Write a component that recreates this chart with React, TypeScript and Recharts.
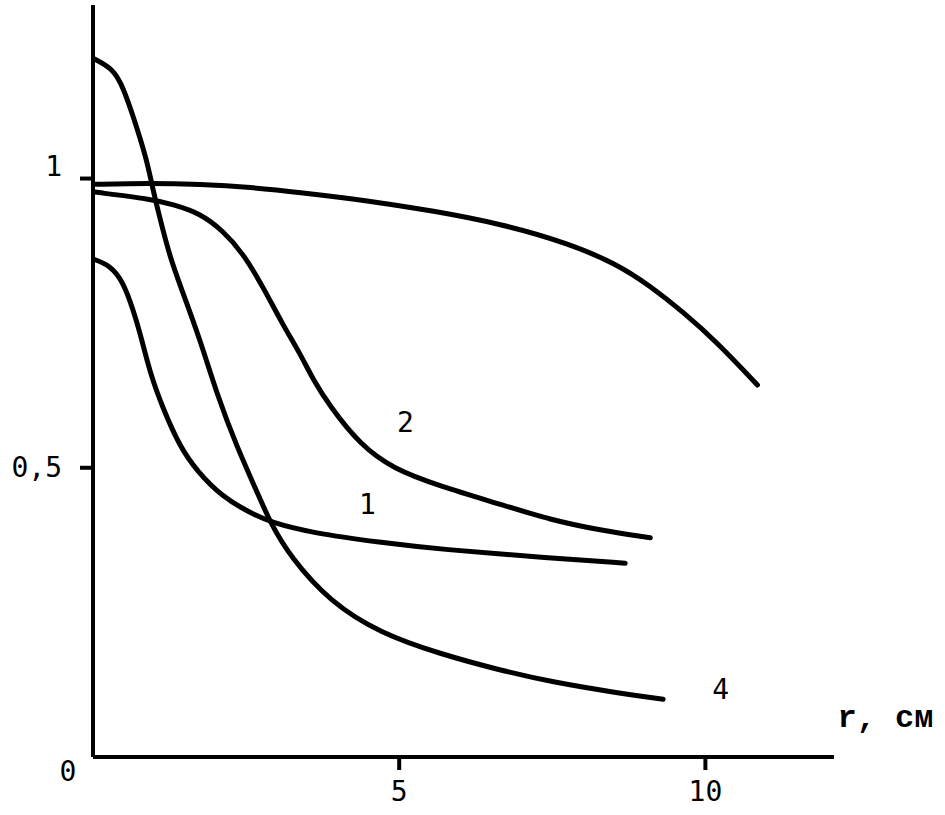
import React from 'react';
import { LineChart, Line, XAxis, YAxis, ReferenceDot } from 'recharts';

// radius, cm
const r1 = [0, 0.28, 0.49, 0.65, 0.77, 0.93, 1.14, 1.42, 1.7, 2.12, 2.57, 2.89, 3.59, 4.69, 5.67, 7.47, 8.69];
const v1 = [0.861, 0.85, 0.822, 0.775, 0.733, 0.664, 0.603, 0.536, 0.494, 0.449, 0.422, 0.406, 0.387, 0.371, 0.359, 0.344, 0.335];

const r2 = [0, 0.98, 1.31, 1.75, 2.12, 2.45, 2.78, 3.1, 3.38, 3.59, 3.87, 4.36, 4.9, 5.67, 6.65, 7.47, 8.28, 9.1];
const v2 = [0.977, 0.964, 0.955, 0.94, 0.91, 0.871, 0.812, 0.747, 0.698, 0.653, 0.606, 0.54, 0.498, 0.468, 0.437, 0.41, 0.392, 0.379];

const r3 = [0, 0.93, 1.75, 2.57, 3.38, 4.48, 5.56, 6.65, 7.74, 8.56, 9.1, 9.64, 10.2, 10.85];
const v3 = [0.99, 0.992, 0.99, 0.985, 0.976, 0.962, 0.944, 0.922, 0.889, 0.852, 0.814, 0.769, 0.716, 0.643];

const r4 = [0, 0.33, 0.49, 0.65, 0.88, 0.96, 1.06, 1.26, 1.45, 1.75, 2.03, 2.35, 2.68, 2.89, 3.22, 3.87, 4.69, 5.67, 6.65, 7.47, 8.61, 9.31];
const v4 = [1.208, 1.19, 1.158, 1.11, 1.032, 0.99, 0.945, 0.862, 0.808, 0.721, 0.625, 0.536, 0.458, 0.406, 0.346, 0.268, 0.214, 0.178, 0.15, 0.13, 0.11, 0.1];

const xTicks = [5, 10];
const yTicks = [0, 0.5, 1];
const yTickLabels: Record<number, string> = { 0: '0', 0.5: '0,5', 1: '1' };

// curve labels: [text, r, value]
const curveLabels: [string, number, number][] = [
  ['1', 4.48, 0.436],
  ['2', 5.1, 0.579],
  ['4', 10.25, 0.116],
];

const zip = (xs: number[], ys: number[]) => xs.map((x, i) => ({ x, y: ys[i] }));

const FONT = '"DejaVu Sans Mono", monospace';

const YTick = (props: any) => {
  const { x, y, payload } = props;
  const v = payload.value;
  if (v === 0) {
    return (
      <text x={x - 25} y={y + 14} textAnchor="middle" dominantBaseline="central" fontFamily={FONT} fontSize={28} fill="#000">
        0
      </text>
    );
  }
  return (
    <g>
      <line x1={x - 13} x2={x} y1={y} y2={y} stroke="#000" strokeWidth={4} />
      <text x={x - 31} y={v === 1 ? y - 12 : y} textAnchor="end" dominantBaseline="central" fontFamily={FONT} fontSize={28} fill="#000">
        {yTickLabels[v]}
      </text>
    </g>
  );
};

const XTick = (props: any) => {
  const { x, y, payload } = props;
  return (
    <g>
      <line x1={x} x2={x} y1={y} y2={y + 13} stroke="#000" strokeWidth={4} />
      <text x={x} y={y + 34} textAnchor="middle" dominantBaseline="central" fontFamily={FONT} fontSize={28} fill="#000">
        {payload.value}
      </text>
    </g>
  );
};

const textShape = (label: string, size: number, family: string, weight: string) => (p: any) => (
  <text x={p.cx} y={p.cy} textAnchor="middle" dominantBaseline="central" fontFamily={family} fontSize={size} fontWeight={weight} fill="#000">
    {label}
  </text>
);

export default function App() {
  const series = [zip(r1, v1), zip(r2, v2), zip(r3, v3), zip(r4, v4)];
  return (
    <div style={{ position: 'absolute', left: 0, top: 0, background: '#fff' }}>
      <LineChart width={945} height={815} margin={{ top: 5, right: 111, bottom: 8, left: 0 }}>
        <XAxis
          type="number"
          dataKey="x"
          domain={[0, 12.1]}
          ticks={xTicks}
          tick={<XTick />}
          tickLine={false}
          tickSize={0}
          tickMargin={0}
          height={50}
          axisLine={{ stroke: '#000', strokeWidth: 4 }}
          allowDataOverflow
        />
        <YAxis
          type="number"
          dataKey="y"
          domain={[0, 1.3]}
          ticks={yTicks}
          tick={<YTick />}
          tickLine={false}
          tickSize={0}
          tickMargin={0}
          width={93}
          axisLine={{ stroke: '#000', strokeWidth: 4 }}
          allowDataOverflow
        />
        {series.map((d, i) => (
          <Line
            key={i}
            data={d}
            dataKey="y"
            type="basis"
            stroke="#000"
            strokeWidth={5}
            strokeLinecap="round"
            dot={false}
            activeDot={false}
            isAnimationActive={false}
          />
        ))}
        {curveLabels.map(([t, x, y]) => (
          <ReferenceDot key={t} x={x} y={y} r={1} shape={textShape(t, 28, FONT, 'normal')} />
        ))}
        <ReferenceDot
          x={12.94}
          y={0.067}
          r={1}
          ifOverflow="visible"
          shape={textShape('r, см', 32, '"Liberation Mono", monospace', 'bold')}
        />
      </LineChart>
    </div>
  );
}
